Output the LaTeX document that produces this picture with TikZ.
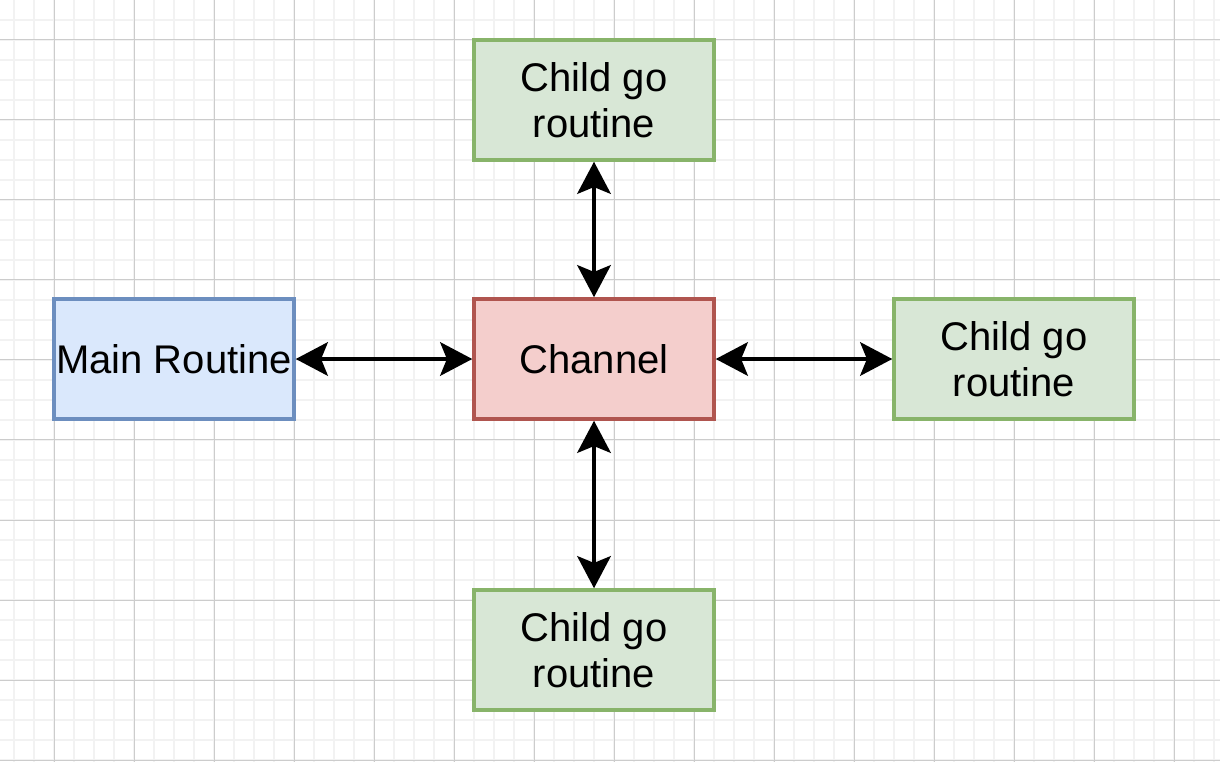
\documentclass[tikz,border=0pt]{standalone}
\usepackage{fontspec}
\setmainfont{Liberation Sans}
\usetikzlibrary{arrows.meta}
\definecolor{minorgrid}{HTML}{F2F2F2}
\definecolor{majorgrid}{HTML}{CCCCCC}
\definecolor{blueFill}{HTML}{DAE8FC}
\definecolor{blueLine}{HTML}{6C8EBF}
\definecolor{redFill}{HTML}{F4CECC}
\definecolor{redLine}{HTML}{B0554F}
\definecolor{greenFill}{HTML}{D8E7D6}
\definecolor{greenLine}{HTML}{88B46A}
\tikzset{
  box/.style={rectangle, minimum width=180pt, minimum height=90pt,
    line width=2.6pt, inner sep=0pt, align=center,
    font=\fontsize{30pt}{34.5pt}\selectfont},
  mainbox/.style={box, draw=blueLine, fill=blueFill},
  chanbox/.style={box, draw=redLine, fill=redFill},
  childbox/.style={box, draw=greenLine, fill=greenFill},
  link/.style={line width=3.6pt, {Stealth[length=24pt, width=25pt, inset=5pt]}-{Stealth[length=24pt, width=25pt, inset=5pt]}},
}
\begin{document}
\begin{tikzpicture}[x=0.75pt, y=-0.75pt]
  % canvas and grid
  \fill[white] (0,0) rectangle (1220,762);
  \useasboundingbox (0,0) rectangle (1220,762);
  \foreach \x in {14,34,...,1214} \draw[minorgrid, line width=1.5pt] (\x,0) -- (\x,762);
  \foreach \y in {20,40,...,760} \draw[minorgrid, line width=1.5pt] (0,\y) -- (1220,\y);
  \foreach \x in {54,134,...,1214} \draw[majorgrid, line width=0.75pt] (\x,0) -- (\x,762);
  \foreach \y in {40,120,...,760} \draw[majorgrid, line width=0.75pt] (0,\y) -- (1220,\y);

  % routines and the channel
  \node[chanbox]  (chan)  at (594,359) {Channel};
  \node[mainbox]  (main)  at (174,359) {Main Routine};
  \node[childbox] (top)   at (594,100) {Child go\\routine};
  \node[childbox] (right) at (1014,359) {Child go\\routine};
  \node[childbox] (bot)   at (594,650) {Child go\\routine};

  % two-way connections
  \draw[link] (main.east) -- (chan.west);
  \draw[link] (chan.east) -- (right.west);
  \draw[link] (top.south) -- (chan.north);
  \draw[link] (chan.south) -- (bot.north);
\end{tikzpicture}
\end{document}
